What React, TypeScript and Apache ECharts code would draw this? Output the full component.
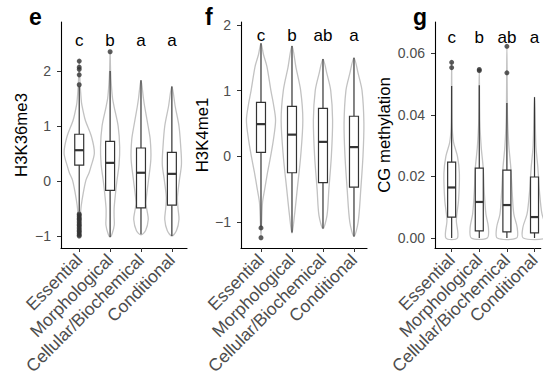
import React, { useEffect, useRef } from "react";
import * as echarts from "echarts";

const categories = ["Essential", "Morphological", "Cellular/Biochemical", "Conditional"];
const categoryPositions = [1, 2, 3, 4];

// ---------- Panel e : H3K36me3 ----------
const h3k36Ticks = [-1, 0, 1, 2];
// [low whisker, q1, median, q3, high whisker]
const h3k36Box = [
  [-0.56, 0.29, 0.56, 0.85, 1.72],
  [-1.02, -0.17, 0.33, 0.72, 2.0],
  [-0.97, -0.49, 0.15, 0.6, 1.83],
  [-1.0, -0.44, 0.13, 0.52, 1.72],
];
const h3k36Outliers = [
  [1.75, 1.93, 2.03, 2.07, 2.18, -0.6, -0.62, -0.65, -0.68, -0.7, -0.73, -0.76, -0.79, -0.81, -0.84, -0.87, -0.9, -0.92, -0.95, -0.98, -1.0],
  [2.35],
  [],
  [],
];
// violin outlines: [value, half width in category units]
const h3k36Violins = [
  [[-1.0, 0], [-0.8, 0.02], [-0.6, 0.04], [-0.45, 0.065], [-0.22, 0.13], [0.02, 0.22], [0.15, 0.32], [0.26, 0.38], [0.51, 0.49], [0.8, 0.4], [1.1, 0.2], [1.29, 0.12], [1.42, 0.075], [1.75, 0.03], [2.0, 0.012], [2.2, 0]],
  [[-1.02, 0], [-0.95, 0.07], [-0.8, 0.135], [-0.65, 0.13], [-0.5, 0.13], [-0.25, 0.17], [0, 0.22], [0.3, 0.29], [0.62, 0.31], [1.0, 0.26], [1.35, 0.13], [1.5, 0.08], [1.75, 0.04], [2.0, 0.015], [2.35, 0]],
  [[-0.98, 0], [-0.9, 0.15], [-0.7, 0.235], [-0.55, 0.2], [-0.4, 0.16], [0, 0.24], [0.4, 0.32], [0.75, 0.3], [1.0, 0.23], [1.35, 0.12], [1.5, 0.08], [1.83, 0]],
  [[-1.0, 0], [-0.9, 0.15], [-0.7, 0.23], [-0.5, 0.2], [-0.3, 0.18], [0, 0.24], [0.3, 0.31], [0.6, 0.29], [1.0, 0.23], [1.35, 0.11], [1.72, 0]],
];
const h3k36Letters = ["c", "b", "a", "a"];
const h3k36LetterY = 2.55;

// ---------- Panel f : H3K4me1 ----------
const h3k4Ticks = [-1, 0, 1, 2];
const h3k4Box = [
  [-1.07, 0.06, 0.49, 0.82, 1.72],
  [-1.16, -0.25, 0.33, 0.76, 1.68],
  [-1.1, -0.4, 0.22, 0.73, 1.48],
  [-1.22, -0.47, 0.14, 0.61, 1.5],
];
const h3k4Outliers = [[-1.09, -1.24], [], [], []];
const h3k4Violins = [
  [[-1.22, 0], [-1.0, 0.02], [-0.7, 0.05], [-0.5, 0.12], [-0.25, 0.21], [0, 0.31], [0.25, 0.4], [0.55, 0.47], [0.8, 0.4], [1.0, 0.32], [1.37, 0.19], [1.55, 0.08], [1.72, 0]],
  [[-1.17, 0], [-0.9, 0.08], [-0.5, 0.17], [0, 0.28], [0.55, 0.35], [1.0, 0.28], [1.35, 0.13], [1.68, 0]],
  [[-1.1, 0], [-0.9, 0.13], [-0.5, 0.19], [0, 0.27], [0.55, 0.31], [1.0, 0.25], [1.25, 0.13], [1.48, 0]],
  [[-1.22, 0], [-1.0, 0.135], [-0.5, 0.22], [0, 0.29], [0.5, 0.32], [1.0, 0.26], [1.25, 0.14], [1.5, 0]],
];
const h3k4Letters = ["c", "b", "ab", "a"];
const h3k4LetterY = 1.836;

// ---------- Panel g : CG methylation ----------
const cgTicks = [0, 0.02, 0.04, 0.06];
const cgBox = [
  [0, 0.0068, 0.0164, 0.0246, 0.0493],
  [0, 0.0023, 0.0117, 0.0227, 0.0496],
  [0, 0.002, 0.0107, 0.022, 0.0438],
  [0, 0.0017, 0.0068, 0.0198, 0.0457],
];
const cgOutliers = [[0.0553, 0.057], [0.0543, 0.0547], [0.0536, 0.0622], []];
const cgViolins = [
  [[0, 0.21], [0.0058, 0.17], [0.0123, 0.25], [0.021, 0.28], [0.0265, 0.21], [0.031, 0.07], [0.036, 0.02], [0.045, 0.008], [0.057, 0]],
  [[0, 0.29], [0.0035, 0.33], [0.0078, 0.24], [0.015, 0.18], [0.023, 0.14], [0.0295, 0.07], [0.038, 0.02], [0.0546, 0]],
  [[0, 0.35], [0.0035, 0.37], [0.0078, 0.25], [0.015, 0.19], [0.023, 0.14], [0.03, 0.07], [0.04, 0.02], [0.0622, 0]],
  [[0, 0.41], [0.0035, 0.42], [0.0078, 0.27], [0.015, 0.18], [0.023, 0.12], [0.03, 0.05], [0.0457, 0]],
];
const cgLetters = ["c", "b", "ab", "a"];
const cgLetterY = 0.0651;

const FONT = "'Liberation Sans', Arial, Helvetica, sans-serif";

type Panel = {
  tag: string;
  title: string;
  ticks: number[];
  box: number[][];
  outliers: number[][];
  violins: number[][][];
  letters: string[];
  letterY: number;
  grid: { left: number; top: number; width: number; height: number };
  xRange: [number, number];
  yRange: [number, number];
  nameGap: number;
  tagX: number;
  fmt: (v: number) => string;
};

const signed = (v: number) => (v < 0 ? "\u2212" + Math.abs(v) : String(v));

const panels: Panel[] = [
  {
    tag: "e", title: "H3K36me3", ticks: h3k36Ticks, box: h3k36Box, outliers: h3k36Outliers,
    violins: h3k36Violins, letters: h3k36Letters, letterY: h3k36LetterY,
    grid: { left: 61, top: 22, width: 126, height: 226 },
    xRange: [0.41, 4.49], yRange: [-1.218, 2.891], nameGap: 31, tagX: 29, fmt: signed,
  },
  {
    tag: "f", title: "H3K4me1", ticks: h3k4Ticks, box: h3k4Box, outliers: h3k4Outliers,
    violins: h3k4Violins, letters: h3k4Letters, letterY: h3k4LetterY,
    grid: { left: 241, top: 22, width: 126, height: 226 },
    xRange: [0.355, 4.42], yRange: [-1.396, 2.045], nameGap: 28, tagX: 205, fmt: signed,
  },
  {
    tag: "g", title: "CG methylation", ticks: cgTicks, box: cgBox, outliers: cgOutliers,
    violins: cgViolins, letters: cgLetters, letterY: cgLetterY,
    grid: { left: 435, top: 22, width: 108, height: 226 },
    xRange: [0.397, 4.227], yRange: [-0.00324, 0.0701], nameGap: 42, tagX: 413,
    fmt: (v: number) => v.toFixed(2),
  },
];

export default function App() {
  const ref = useRef<HTMLDivElement>(null);

  useEffect(() => {
    document.body.style.margin = "0";
    if (!ref.current) return;
    const chart = echarts.init(ref.current, undefined, { renderer: "svg" });

    const grids: any[] = [];
    const xAxes: any[] = [];
    const yAxes: any[] = [];
    const series: any[] = [];
    const graphics: any[] = [];

    panels.forEach((p, i) => {
      grids.push({ ...p.grid, containLabel: false });
      xAxes.push({
        type: "value",
        gridIndex: i,
        min: p.xRange[0],
        max: p.xRange[1],
        axisLine: { show: true, onZero: false, lineStyle: { color: "#000", width: 1.1 } },
        axisTick: { show: true, length: 4, customValues: categoryPositions, lineStyle: { color: "#333", width: 1 } },
        axisLabel: {
          customValues: categoryPositions,
          rotate: 45,
          margin: 9,
          fontSize: 17.5,
          color: "#4d4d4d",
          fontFamily: FONT,
          formatter: (v: number) => categories[Math.round(v) - 1] ?? "",
        },
        splitLine: { show: false },
      });
      yAxes.push({
        type: "value",
        gridIndex: i,
        min: p.yRange[0],
        max: p.yRange[1],
        name: p.title,
        nameLocation: "middle",
        nameGap: p.nameGap,
        nameTextStyle: { fontSize: 16.8, color: "#000", fontFamily: FONT },
        axisLine: { show: true, onZero: false, lineStyle: { color: "#000", width: 1.1 } },
        axisTick: { show: true, length: 4, customValues: p.ticks, lineStyle: { color: "#333", width: 1 } },
        axisLabel: {
          customValues: p.ticks,
          margin: 10,
          fontSize: 14,
          color: "#4d4d4d",
          fontFamily: FONT,
          formatter: (v: number) => p.fmt(v),
        },
        splitLine: { show: false },
      });

      const profiles = p.violins;
      series.push({
        type: "custom",
        xAxisIndex: i,
        yAxisIndex: i,
        silent: true,
        data: categoryPositions.map((c) => [c]),
        encode: { x: 0 },
        renderItem: (_params: any, api: any) => {
          const idx = api.value(0);
          const prof = profiles[idx - 1];
          const pts: number[][] = [];
          for (let k = 0; k < prof.length; k++) {
            pts.push(api.coord([idx - prof[k][1], prof[k][0]]));
          }
          for (let k = prof.length - 1; k >= 0; k--) {
            if (prof[k][1] === 0) continue;
            pts.push(api.coord([idx + prof[k][1], prof[k][0]]));
          }
          return {
            type: "polygon",
            shape: { points: pts, smooth: 0.3 },
            style: { fill: "none", stroke: "#c2c2c2", lineWidth: 1.3 },
          };
        },
      });

      series.push({
        type: "custom",
        xAxisIndex: i,
        yAxisIndex: i,
        silent: true,
        data: p.box.map((b, k) => [categoryPositions[k], ...b]),
        encode: { x: 0, y: [1, 2, 3, 4, 5] },
        renderItem: (_params: any, api: any) => {
          const idx = api.value(0);
          const lo = api.value(1), q1 = api.value(2), med = api.value(3), q3 = api.value(4), hi = api.value(5);
          const hw = 0.145;
          const pLo = api.coord([idx, lo]);
          const pQ1 = api.coord([idx, q1]);
          const pQ3 = api.coord([idx, q3]);
          const pHi = api.coord([idx, hi]);
          const tl = api.coord([idx - hw, q3]);
          const br = api.coord([idx + hw, q1]);
          const mL = api.coord([idx - hw, med]);
          const mR = api.coord([idx + hw, med]);
          const ls = { stroke: "#333", lineWidth: 1.2 };
          return {
            type: "group",
            children: [
              { type: "line", shape: { x1: pLo[0], y1: pLo[1], x2: pQ1[0], y2: pQ1[1] }, style: ls },
              { type: "line", shape: { x1: pQ3[0], y1: pQ3[1], x2: pHi[0], y2: pHi[1] }, style: ls },
              {
                type: "rect",
                shape: { x: tl[0], y: tl[1], width: br[0] - tl[0], height: br[1] - tl[1] },
                style: { fill: "#fff", stroke: "#333", lineWidth: 1.2 },
              },
              { type: "line", shape: { x1: mL[0], y1: mL[1], x2: mR[0], y2: mR[1] }, style: { stroke: "#333", lineWidth: 2.2 } },
            ],
          };
        },
      });

      const outData: number[][] = [];
      p.outliers.forEach((arr, k) => arr.forEach((v) => outData.push([categoryPositions[k], v])));
      series.push({
        type: "scatter",
        xAxisIndex: i,
        yAxisIndex: i,
        silent: true,
        symbol: "circle",
        symbolSize: 5,
        itemStyle: { color: "#333" },
        data: outData,
      });

      const letters = p.letters;
      series.push({
        type: "custom",
        xAxisIndex: i,
        yAxisIndex: i,
        silent: true,
        data: letters.map((_l, k) => [categoryPositions[k], p.letterY]),
        encode: { x: 0, y: 1 },
        renderItem: (params: any, api: any) => {
          const pt = api.coord([api.value(0), api.value(1)]);
          return {
            type: "text",
            x: pt[0],
            y: pt[1],
            style: {
              text: letters[params.dataIndex],
              align: "center",
              verticalAlign: "middle",
              fontSize: 17,
              fill: "#000",
              fontFamily: FONT,
            },
          };
        },
      });

      graphics.push({
        type: "text",
        left: p.tagX,
        top: 5,
        style: { text: p.tag, fontSize: 23, fontWeight: "bold", fill: "#000", fontFamily: FONT },
      });
    });

    chart.setOption({
      animation: false,
      backgroundColor: "#fff",
      textStyle: { fontFamily: FONT },
      grid: grids,
      xAxis: xAxes,
      yAxis: yAxes,
      series,
      graphic: graphics,
    });

    return () => chart.dispose();
  }, []);

  return <div ref={ref} style={{ width: 543, height: 381 }} />;
}
